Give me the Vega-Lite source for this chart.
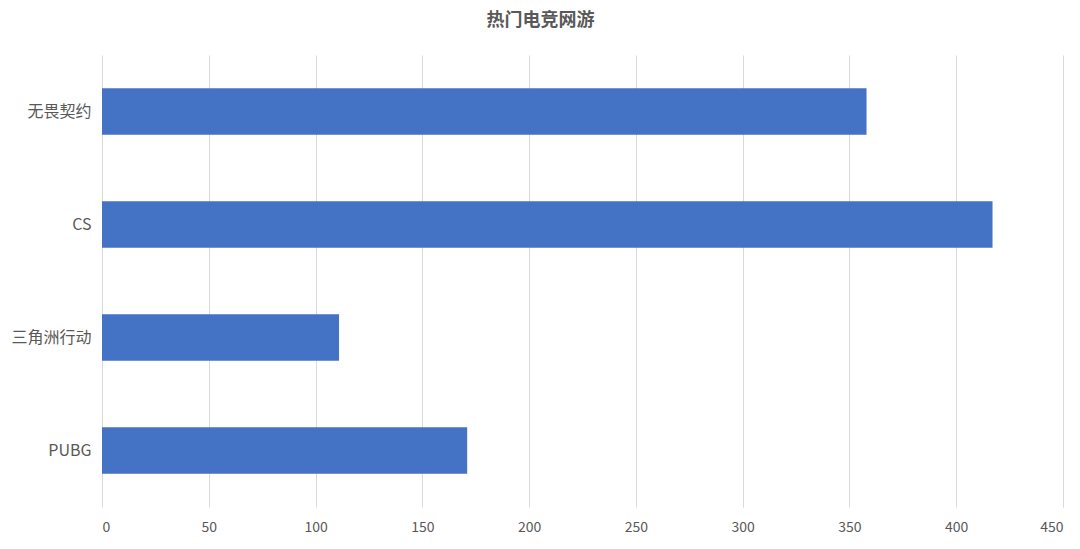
{
  "$schema": "https://vega.github.io/schema/vega-lite/v6.json",
  "width": 961,
  "height": 452,
  "autosize": "none",
  "padding": {"left": 102, "top": 55, "right": 17, "bottom": 42},
  "background": "white",
  "title": {
    "text": "热门电竞网游",
    "font": "Noto Sans CJK SC",
    "fontSize": 18,
    "fontWeight": "bold",
    "color": "#595959",
    "anchor": "middle",
    "dx": -42,
    "offset": 25
  },
  "data": {
    "values": [
      {"game": "无畏契约", "value": 358},
      {"game": "CS", "value": 417},
      {"game": "三角洲行动", "value": 111},
      {"game": "PUBG", "value": 171}
    ]
  },
  "mark": {"type": "bar", "color": "#4472C4"},
  "encoding": {
    "y": {
      "field": "game",
      "type": "nominal",
      "sort": null,
      "title": null,
      "scale": {"paddingInner": 0.59, "paddingOuter": 0.295},
      "axis": {
        "domain": false,
        "ticks": false,
        "labelFont": "Noto Sans CJK SC",
        "labelFontSize": 16,
        "labelColor": "#595959",
        "labelPadding": 11
      }
    },
    "x": {
      "field": "value",
      "type": "quantitative",
      "title": null,
      "scale": {"domain": [0, 450], "nice": false},
      "axis": {
        "values": [0, 50, 100, 150, 200, 250, 300, 350, 400, 450],
        "domain": false,
        "ticks": false,
        "grid": true,
        "gridColor": "#d9d9d9",
        "labelFont": "Noto Sans CJK SC",
        "labelFontSize": 14,
        "labelColor": "#595959",
        "labelPadding": 13
      }
    }
  },
  "config": {"view": {"stroke": null}}
}
